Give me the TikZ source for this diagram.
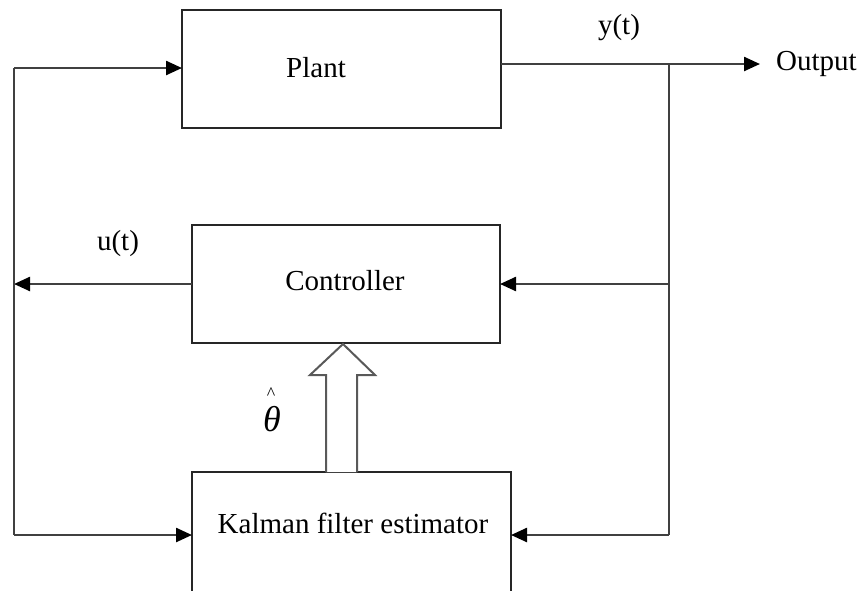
\documentclass[tikz,border=0pt]{standalone}
\usepackage{fontspec}
\setmainfont{Liberation Serif}
\usetikzlibrary{arrows.meta}
\begin{document}
\begin{tikzpicture}[x=1pt,y=-1pt,
  blk/.style={draw=black!85,line width=2pt,fill=white},
  wire/.style={draw=black!75,line width=2.4pt},
  arr/.style={wire,-{Triangle[length=16pt,width=14pt,color=black]}},
  lbl/.style={font=\fontsize{29}{32}\selectfont,inner sep=0pt}]
\useasboundingbox (0,0) rectangle (865,590);
% boxes
\draw[blk] (182,10) rectangle (501,128);
\node[lbl] (plant) at (316,68) {Plant};
\draw[blk] (192,225) rectangle (500,343);
\node[lbl] (ctrl) at (345,281) {Controller};
\draw[blk] (192,472) rectangle (511,600);
\node[lbl] (kal) at (353,523) {Kalman filter estimator};
% coordinates
\coordinate (pin) at (182,68);
\coordinate (pout) at (501,64);
\coordinate (out) at (760,64);
\coordinate (rtop) at (669,64);
\coordinate (rmid) at (669,284);
\coordinate (rbot) at (669,535);
\coordinate (cin) at (500,284);
\coordinate (cout) at (192,284);
\coordinate (kin) at (511,535);
\coordinate (kinl) at (192,535);
\coordinate (ltop) at (14,68);
\coordinate (lmid) at (14,284);
\coordinate (lbot) at (14,535);
% wires
\draw[arr] (pout) -- (out);
\node[lbl,anchor=west] (outl) at (776,64) {Output};
\node[lbl] (yt) at (619,28) {y(t)};
\draw[wire] (rtop) -- (rbot);
\draw[arr] (rmid) -- (cin);
\draw[arr] (rbot) -- (kin);
\draw[arr] (cout) -- (lmid);
\node[lbl] (ut) at (118,244) {u(t)};
\draw[wire] (ltop) -- (lbot);
\draw[arr] (ltop) -- (pin);
\draw[arr] (lbot) -- (kinl);
% hollow arrow
\draw[draw=black!65,line width=2pt,fill=white,line join=miter]
  (326,472) -- (326,375) -- (310,375) -- (343,344) -- (375,375) -- (357,375) -- (357,472);
% theta hat
\node[inner sep=0pt] (hat) at (271,394) {\fontsize{18}{18}\selectfont\textasciicircum};
\node[inner sep=0pt] (theta) at (272,419) {\fontsize{36}{40}\selectfont\itshape θ};
\end{tikzpicture}
\end{document}
